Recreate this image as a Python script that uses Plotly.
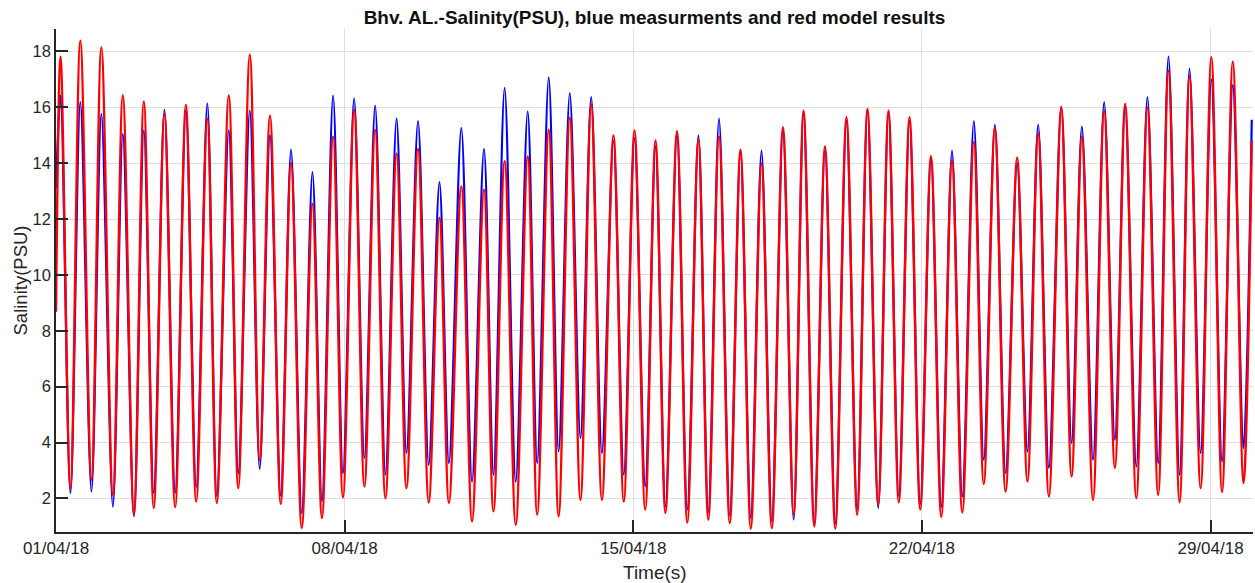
import pandas as pd
import plotly.graph_objects as go

# ---- data (days since 01/04/2018 00:00, salinity PSU) ----
start_day = [0.0]
start_red = [8.68]
start_blue = [13.1]

peak_day = [0.11, 0.59, 1.10, 1.62, 2.13, 2.63, 3.15, 3.67, 4.19, 4.70,
            5.19, 5.70, 6.22, 6.72, 7.23, 7.74, 8.26, 8.78, 9.30, 9.83,
            10.38, 10.88, 11.44, 11.95, 12.46, 12.98, 13.52, 14.03, 14.54, 15.06,
            15.58, 16.08, 16.60, 17.11, 17.63, 18.13, 18.65, 19.17, 19.68, 20.19,
            20.70, 21.22, 21.73, 22.26, 22.77, 23.31, 23.82, 24.38, 24.88, 25.42,
            25.93, 26.47, 26.98, 27.49, 28.02, 28.54]
red_peak = [17.81, 18.38, 18.14, 16.42, 16.20, 15.76, 16.08, 15.59, 16.42, 17.88,
            15.70, 14.00, 12.55, 14.95, 15.91, 15.19, 14.34, 14.51, 12.05, 13.17,
            13.05, 14.07, 14.24, 15.20, 15.62, 16.10, 14.99, 15.17, 14.81, 15.14,
            14.84, 14.95, 14.48, 13.98, 15.29, 15.88, 14.60, 15.64, 15.94, 15.88,
            15.64, 14.25, 14.10, 14.75, 15.26, 14.19, 15.07, 15.98, 14.95, 15.88,
            16.12, 15.98, 17.31, 17.10, 17.79, 17.63]
blue_peak = [16.42, 16.18, 15.76, 15.05, 15.17, 15.92, 15.90, 16.14, 15.17, 15.88,
             15.00, 14.48, 13.68, 16.42, 16.32, 16.06, 15.59, 15.50, 13.32, 15.26,
             14.51, 16.69, 15.85, 17.07, 16.51, 16.36, 14.80, 14.90, 14.60, 15.05,
             14.99, 15.59, 14.40, 14.45, 15.20, 15.80, 14.50, 15.50, 15.90, 15.80,
             15.50, 14.20, 14.45, 15.50, 15.37, 14.00, 15.37, 16.02, 15.31, 16.18,
             16.05, 16.36, 17.81, 17.37, 17.00, 16.80]

trough_day = [0.35, 0.86, 1.38, 1.89, 2.37, 2.89, 3.40, 3.90, 4.42, 4.94,
              5.45, 5.96, 6.45, 6.96, 7.48, 7.99, 8.50, 9.04, 9.53, 10.09,
              10.61, 11.15, 11.67, 12.19, 12.72, 13.24, 13.77, 14.29, 14.78, 15.31,
              15.82, 16.34, 16.85, 17.36, 17.89, 18.39, 18.90, 19.43, 19.94, 20.44,
              20.96, 21.47, 21.98, 22.50, 23.03, 23.56, 24.08, 24.63, 25.15, 25.68,
              26.20, 26.73, 27.25, 27.76, 28.28, 28.80]
red_trough = [2.37, 2.67, 2.13, 1.42, 1.66, 1.69, 1.89, 1.84, 2.37, 3.38,
              1.81, 0.94, 1.30, 2.04, 2.43, 2.01, 2.37, 1.86, 1.84, 1.18,
              1.54, 1.06, 1.42, 1.36, 1.95, 1.95, 1.89, 1.60, 1.48, 1.14,
              1.24, 1.12, 0.92, 0.94, 1.42, 1.00, 0.92, 1.42, 1.78, 1.86,
              1.60, 1.34, 1.50, 2.52, 2.25, 2.61, 2.07, 2.79, 1.95, 3.09,
              2.01, 2.13, 1.86, 2.37, 2.23, 2.55]
blue_trough = [2.19, 2.25, 1.71, 1.36, 2.20, 2.20, 2.40, 2.10, 2.90, 3.05,
               2.10, 1.48, 1.90, 2.90, 3.44, 2.85, 3.62, 3.20, 3.26, 2.60,
               2.85, 2.60, 3.26, 3.68, 4.16, 3.62, 2.85, 2.43, 1.71, 1.60,
               1.50, 1.40, 1.30, 1.20, 1.24, 1.10, 1.10, 1.60, 1.66, 2.10,
               1.80, 1.70, 2.07, 3.38, 2.91, 3.68, 3.09, 3.98, 3.38, 4.10,
               3.14, 3.26, 2.85, 3.62, 3.32, 3.80]

end_day = [29.0]
end_red = [14.81]
end_blue = [15.55]

x_tick_dates = ["2018-04-01", "2018-04-08", "2018-04-15", "2018-04-22", "2018-04-29"]
x_tick_text = ["01/04/18", "08/04/18", "15/04/18", "22/04/18", "29/04/18"]
y_ticks = [2, 4, 6, 8, 10, 12, 14, 16, 18]


def build(start_v, peaks, troughs, end_v):
    days, vals = list(start_day), list(start_v)
    for i in range(len(peak_day)):
        days += [peak_day[i], trough_day[i]]
        vals += [peaks[i], troughs[i]]
    days += end_day
    vals += end_v
    return days, vals


base = pd.Timestamp("2018-04-01")
bd, bv = build(start_blue, blue_peak, blue_trough, end_blue)
rd, rv = build(start_red, red_peak, red_trough, end_red)
bt = base + pd.to_timedelta(bd, unit="D")
rt = base + pd.to_timedelta(rd, unit="D")

fig = go.Figure()
fig.add_trace(go.Scatter(x=bt, y=bv, mode="lines", name="measurements",
                         line=dict(color="#0000ff", width=2.2, shape="spline", smoothing=0.9)))
fig.add_trace(go.Scatter(x=rt, y=rv, mode="lines", name="model",
                         line=dict(color="#ff0000", width=2.4, shape="spline", smoothing=1.0)))

axis_col = "#262626"
fig.update_layout(
    width=1255, height=583,
    margin=dict(l=56, r=2, t=29, b=51),
    paper_bgcolor="white", plot_bgcolor="white",
    showlegend=False,
    font=dict(family="Liberation Sans, Arial, sans-serif", size=16, color=axis_col),
    title=dict(text="<b>Bhv. AL.-Salinity(PSU), blue measurments and red model results</b>",
               x=0.5, xref="paper", y=1 - 17.5 / 583, yref="container", yanchor="middle",
               xanchor="center", font=dict(size=19, color="#111111")),
    xaxis=dict(range=[base, base + pd.Timedelta(days=29.03)],
               tickvals=pd.to_datetime(x_tick_dates), ticktext=x_tick_text,
               showgrid=True, gridcolor="#dfdfdf", gridwidth=1,
               showline=True, linecolor=axis_col, linewidth=1.5,
               ticks="inside", ticklen=12, tickcolor=axis_col, tickwidth=1.5,
               tickfont=dict(size=17, color=axis_col), zeroline=False),
    yaxis=dict(range=[0.8, 18.8], tickvals=y_ticks,
               showgrid=True, gridcolor="#dfdfdf", gridwidth=1,
               showline=True, linecolor=axis_col, linewidth=1.5,
               ticks="inside", ticklen=12, tickcolor=axis_col, tickwidth=1.5,
               tickfont=dict(size=16.5, color=axis_col), zeroline=False),
    annotations=[
        dict(text="Salinity(PSU)", xref="paper", yref="paper", x=-36 / 1197, y=0.5,
             textangle=-90, showarrow=False, xanchor="center", yanchor="middle",
             font=dict(size=18.5, color=axis_col)),
        dict(text="Time(s)", xref="paper", yref="paper", x=0.5, y=-40 / 503,
             showarrow=False, xanchor="center", yanchor="middle",
             font=dict(size=19, color=axis_col)),
    ],
)

fig.write_html("out.html")
